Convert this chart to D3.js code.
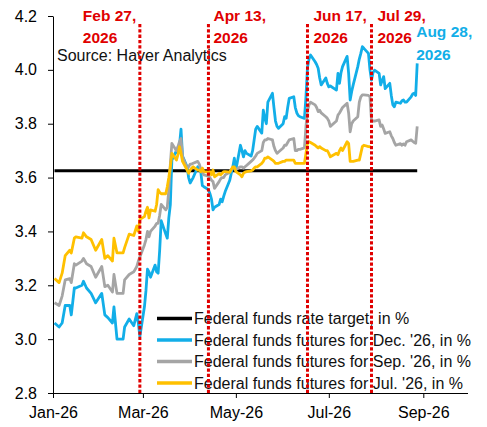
<!DOCTYPE html>
<html>
  <head>
    <meta charset="utf-8">
    <title>Federal funds futures</title>
    <script src="https://d3js.org/d3.v7.min.js"></script>
    <style>
      body { margin: 0; background: #fff; }
      svg { display: block; font-family: "Liberation Sans", Arial, sans-serif; }
      .axis text { font-size: 16px; fill: #000; }
      .axis path, .axis line { stroke: #000; stroke-width: 1; }
      .legend text { font-size: 16px; fill: #111; }
      .source { font-size: 16px; fill: #111; }
      .event-label { font-size: 15.5px; font-weight: bold; }
    </style>
  </head>
  <body>
    <svg width="487" height="427"></svg>

    <script>
      // business days (2026), grouped by month
      const dates = [
        "2026-01-02","2026-01-05","2026-01-07","2026-01-09","2026-01-12","2026-01-13","2026-01-15","2026-01-16","2026-01-20","2026-01-21","2026-01-23","2026-01-26","2026-01-29",
        "2026-02-02","2026-02-04","2026-02-06","2026-02-09","2026-02-10","2026-02-12","2026-02-16","2026-02-17","2026-02-20","2026-02-23","2026-02-25","2026-02-26","2026-02-27",
        "2026-03-02","2026-03-03","2026-03-04","2026-03-05","2026-03-06","2026-03-09","2026-03-10","2026-03-11","2026-03-12","2026-03-13","2026-03-16","2026-03-17","2026-03-18","2026-03-19","2026-03-20","2026-03-23","2026-03-24","2026-03-25","2026-03-26","2026-03-27","2026-03-30","2026-03-31",
        "2026-04-01","2026-04-02","2026-04-03","2026-04-06","2026-04-07","2026-04-08","2026-04-09","2026-04-10","2026-04-13","2026-04-14","2026-04-15","2026-04-16","2026-04-17","2026-04-20","2026-04-21","2026-04-22","2026-04-23","2026-04-24","2026-04-27","2026-04-28","2026-04-29","2026-04-30",
        "2026-05-01","2026-05-04","2026-05-05","2026-05-06","2026-05-07","2026-05-08","2026-05-11","2026-05-12","2026-05-13","2026-05-14","2026-05-15","2026-05-18","2026-05-19","2026-05-20","2026-05-21","2026-05-22","2026-05-25","2026-05-26","2026-05-27","2026-05-28","2026-05-29",
        "2026-06-01","2026-06-02","2026-06-03","2026-06-04","2026-06-05","2026-06-08","2026-06-09","2026-06-10","2026-06-11","2026-06-12","2026-06-15","2026-06-16","2026-06-17","2026-06-18","2026-06-19","2026-06-22","2026-06-23","2026-06-24","2026-06-25","2026-06-26","2026-06-29","2026-06-30",
        "2026-07-01","2026-07-02","2026-07-06","2026-07-07","2026-07-08","2026-07-09","2026-07-10","2026-07-13","2026-07-14","2026-07-15","2026-07-16","2026-07-17","2026-07-20","2026-07-21","2026-07-22","2026-07-23","2026-07-24","2026-07-27","2026-07-28","2026-07-29","2026-07-30","2026-07-31",
        "2026-08-03","2026-08-04","2026-08-05","2026-08-06","2026-08-07","2026-08-10","2026-08-11","2026-08-12","2026-08-13","2026-08-14","2026-08-17","2026-08-18","2026-08-19","2026-08-20","2026-08-21","2026-08-24","2026-08-25","2026-08-26","2026-08-27","2026-08-28"
      ];

      const decFutures = [
        3.06,3.045,3.06,3.125,3.125,3.09,3.19,3.19,3.20,3.215,3.19,3.17,3.135,
        3.17,3.09,3.08,3.06,3.12,3.00,3.00,3.045,3.075,3.05,3.095,3.06,3.01,
        3.12,3.18,3.26,3.25,3.23,3.275,3.25,3.245,3.33,3.44,3.39,3.375,3.45,3.50,3.665,3.70,3.69,3.72,3.78,3.68,3.64,3.60,
        3.58,3.59,3.60,3.64,3.63,3.62,3.57,3.566,3.555,3.54,3.52,3.48,3.49,3.50,3.52,3.51,3.53,3.548,3.59,3.616,3.64,3.672,
        3.628,3.72,3.70,3.677,3.70,3.69,3.68,3.70,3.74,3.78,3.79,3.765,3.85,3.82,3.80,3.88,3.913,3.86,3.81,3.79,3.783,
        3.80,3.826,3.82,3.86,3.894,3.90,3.86,3.84,3.83,3.826,3.82,3.90,4.01,4.04,4.055,4.03,4.02,4.006,3.97,3.944,3.97,3.95,
        3.937,3.94,3.925,3.987,3.95,3.99,4.012,4.05,3.987,3.888,3.92,3.944,4.012,4.04,4.061,4.086,4.08,4.061,4.00,3.962,3.99,3.999,
        3.987,3.944,3.96,3.975,3.93,3.95,3.905,3.87,3.863,3.88,3.876,3.885,3.888,3.88,3.88,3.90,3.91,3.913,3.905,4.024
      ];

      const sepFutures = [
        3.135,3.125,3.16,3.22,3.225,3.21,3.28,3.275,3.29,3.30,3.28,3.27,3.23,
        3.27,3.195,3.20,3.175,3.24,3.17,3.17,3.22,3.24,3.25,3.27,3.29,3.305,
        3.35,3.37,3.40,3.38,3.40,3.42,3.43,3.43,3.46,3.50,3.48,3.49,3.554,3.65,3.727,3.70,3.715,3.733,3.745,3.677,3.635,3.64,
        3.65,3.65,3.653,3.66,3.65,3.63,3.62,3.61,3.605,3.60,3.59,3.585,3.56,3.585,3.595,3.60,3.60,3.61,3.62,3.63,3.635,3.635,
        3.63,3.64,3.64,3.635,3.64,3.645,3.66,3.665,3.672,3.68,3.69,3.70,3.73,3.74,3.74,3.745,3.74,3.715,3.70,3.69,3.695,
        3.71,3.72,3.72,3.73,3.74,3.745,3.70,3.70,3.705,3.705,3.71,3.79,3.85,3.87,3.88,3.87,3.86,3.845,3.85,3.84,3.826,3.82,
        3.81,3.79,3.81,3.832,3.84,3.85,3.86,3.876,3.84,3.77,3.80,3.81,3.826,3.88,3.90,3.907,3.907,3.905,3.90,3.814,3.81,3.81,
        3.814,3.79,3.795,3.78,3.764,3.77,3.755,3.745,3.73,3.72,3.726,3.72,3.725,3.72,3.733,3.74,3.735,3.73,3.727,3.79
      ];

      // July contract stops on Jul 29
      const julFutures = [
        3.225,3.21,3.245,3.31,3.33,3.32,3.375,3.38,3.375,3.395,3.38,3.37,3.33,
        3.37,3.30,3.31,3.29,3.375,3.32,3.32,3.34,3.39,3.385,3.42,3.40,3.445,
        3.455,3.475,3.49,3.45,3.48,3.475,3.50,3.555,3.545,3.54,3.54,3.566,3.60,3.64,3.69,3.665,3.685,3.715,3.69,3.66,3.628,3.616,
        3.628,3.635,3.64,3.628,3.628,3.622,3.635,3.622,3.62,3.622,3.61,3.628,3.603,3.615,3.61,3.616,3.622,3.622,3.62,3.63,3.64,3.64,
        3.622,3.61,3.603,3.616,3.62,3.622,3.625,3.628,3.635,3.64,3.64,3.653,3.66,3.672,3.672,3.677,3.665,3.66,3.653,3.653,3.653,
        3.66,3.66,3.665,3.665,3.665,3.665,3.653,3.653,3.653,3.653,3.653,3.69,3.727,3.733,3.73,3.72,3.715,3.71,3.715,3.71,3.70,3.70,
        3.69,3.677,3.69,3.685,3.70,3.71,3.70,3.733,3.727,3.66,3.66,3.66,3.665,3.665,3.69,3.715,3.72,3.715,3.715,3.71
      ];

      const targetDates = ["2026-01-02", "2026-08-28"];
      const targetRate = [3.625, 3.625];

      const eventDates = ["2026-02-27", "2026-04-13", "2026-06-17", "2026-07-29"];
      const eventLabels = ["Feb 27,", "Apr 13,", "Jun 17,", "Jul 29,"];
      const lastDate = "2026-08-28";
      const lastLabel = "Aug 28,";

      const xTickDates = ["2026-01-01", "2026-03-01", "2026-05-01", "2026-07-01", "2026-09-01"];
      const yTicks = [2.8, 3.0, 3.2, 3.4, 3.6, 3.8, 4.0, 4.2];

      const seriesNames = [
        "Federal funds rate target, in %",
        "Federal funds futures for Dec. '26, in %",
        "Federal funds futures for Sep. '26, in %",
        "Federal funds futures for Jul. '26, in %"
      ];
      const seriesColors = ["#000000", "#12aee8", "#a5a5a5", "#ffc000"];
      const eventColor = "#e00000";

      function main(){
        const svg = d3.select("svg");
        const parse = d3.utcParse("%Y-%m-%d");

        const x = d3.scaleUtc()
          .domain([parse("2026-01-01"), parse("2026-09-30")])
          .range([53, 467.5]);
        const y = d3.scaleLinear()
          .domain([2.8, 4.2])
          .range([393, 16]);

        // axes
        svg.append("g").attr("class", "axis")
          .attr("transform", "translate(53,0)")
          .call(d3.axisLeft(y).tickValues(yTicks).tickFormat(d3.format(".1f"))
            .tickSize(5).tickSizeOuter(0).tickPadding(11));

        svg.append("g").attr("class", "axis")
          .attr("transform", "translate(0,393)")
          .call(d3.axisBottom(x).tickValues(xTickDates.map(parse)).tickFormat(d3.utcFormat("%b-%y"))
            .tickSize(5).tickSizeOuter(0).tickPadding(9));

        // series
        const line = d3.line()
          .defined(d => d.v != null)
          .x(d => x(d.date))
          .y(d => y(d.v));

        const series = [
          targetDates.map((d, i) => ({ date: parse(d), v: targetRate[i] })),
          dates.map((d, i) => ({ date: parse(d), v: decFutures[i] })),
          dates.map((d, i) => ({ date: parse(d), v: sepFutures[i] })),
          julFutures.map((v, i) => ({ date: parse(dates[i]), v }))
        ];

        svg.append("g").selectAll("path")
          .data(series)
          .enter().append("path")
            .attr("d", line)
            .attr("fill", "none")
            .attr("stroke", (d, i) => seriesColors[i])
            .attr("stroke-width", (d, i) => i === 0 ? 3 : 2.8)
            .attr("stroke-linejoin", "round");

        // legend
        const legend = svg.append("g").attr("class", "legend")
          .attr("transform", "translate(157, 318.5)");
        const row = legend.selectAll("g").data(seriesNames)
          .enter().append("g")
            .attr("transform", (d, i) => `translate(0, ${i * 21.5})`);
        row.append("line")
          .attr("x1", 0).attr("x2", 35)
          .attr("stroke", (d, i) => seriesColors[i])
          .attr("stroke-width", 3.5);
        row.append("text")
          .attr("x", 37)
          .attr("dy", "0.35em")
          .text(d => d);

        svg.append("text").attr("class", "source")
          .attr("x", 57).attr("y", 61)
          .text("Source: Haver Analytics");

        // event markers
        svg.append("g").selectAll("line")
          .data(eventDates)
          .enter().append("line")
            .attr("x1", d => x(parse(d))).attr("x2", d => x(parse(d)))
            .attr("y1", 24).attr("y2", 393)
            .attr("stroke", eventColor)
            .attr("stroke-width", 3)
            .attr("stroke-dasharray", "3.3,2");

        const labelOffsets = [-57, 5, 6, 6];
        const labels = svg.append("g").selectAll("text")
          .data(eventDates)
          .enter().append("text")
            .attr("class", "event-label")
            .attr("fill", eventColor)
            .attr("transform", (d, i) => `translate(${x(parse(d)) + labelOffsets[i]}, 20.5)`);
        labels.append("tspan").attr("x", 0).attr("y", 0).text((d, i) => eventLabels[i]);
        labels.append("tspan").attr("x", 0).attr("y", 22.5).text("2026");

        const last = svg.append("text")
          .attr("class", "event-label")
          .attr("fill", seriesColors[1])
          .attr("transform", `translate(${x(parse(lastDate)) - 1}, 37)`);
        last.append("tspan").attr("x", 0).attr("y", 0).text(lastLabel);
        last.append("tspan").attr("x", 0).attr("y", 23).text("2026");
      }
      main();
    </script>
  </body>
</html>
